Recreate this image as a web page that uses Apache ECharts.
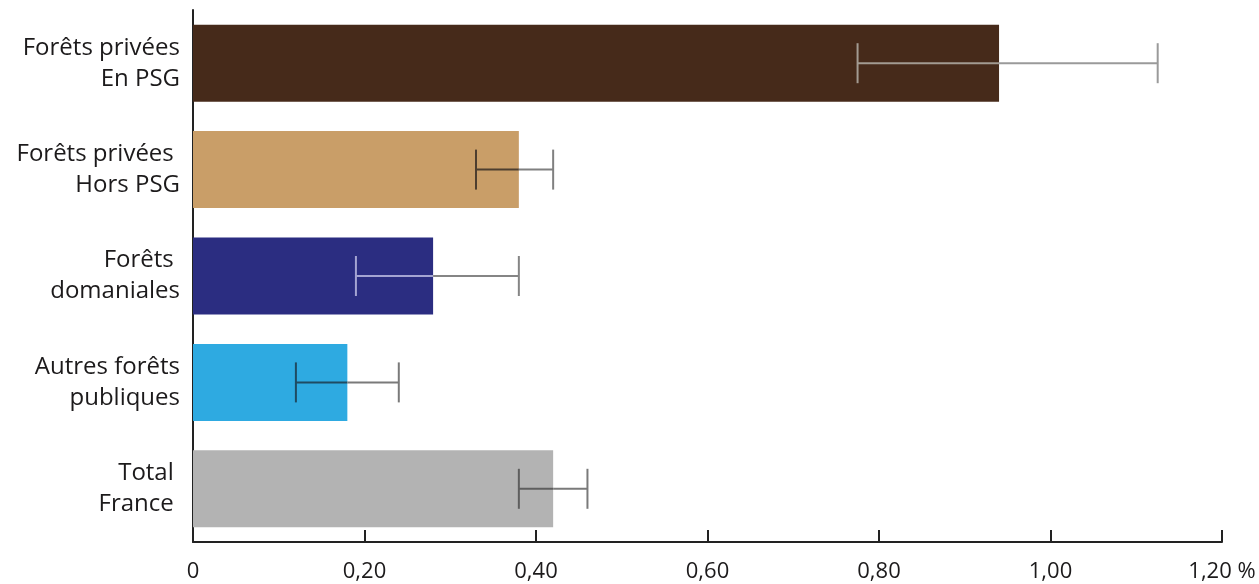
<!DOCTYPE html>
<html>
<head>
<meta charset="utf-8">
<script src="https://cdn.jsdelivr.net/npm/echarts@6/dist/echarts.min.js"></script>
<style>
  html, body { margin: 0; padding: 0; background: #ffffff; }
  #chart { width: 1259px; height: 584px; }
</style>
</head>
<body>
<div id="chart"></div>
<script>
// Forest categories (top to bottom)
const categories = [
  'Forêts privées\nEn PSG',
  'Forêts privées \nHors PSG',
  'Forêts \ndomaniales',
  'Autres forêts\npubliques',
  'Total \nFrance '
];
// Rate (%) per category
const values = [0.94, 0.38, 0.28, 0.18, 0.42];
// Confidence interval bounds (%)
const errLow = [0.775, 0.33, 0.19, 0.12, 0.38];
const errHigh = [1.125, 0.42, 0.38, 0.24, 0.46];
// X axis tick labels
const tickLabels = ['0', '0,20', '0,40', '0,60', '0,80', '1,00', '1,20 %'];

const barColors = ['#462a1a', '#c99e68', '#2b2d81', '#2eaae1', '#b3b3b3'];
// whisker colour where it crosses the bar, and where it sits on white
const innerWhisker = ['#a39b92', '#4d3e2f', '#a4a4d2', '#1f4b62', '#5e5e5e'];
const outerWhisker = ['#9a9a9a', '#808080', '#858585', '#7a7a7a', '#7a7a7a'];

const FONT = '"Open Sans", "DejaVu Sans", sans-serif';
const TEXT = '#1c1a1b';

const chart = echarts.init(document.getElementById('chart'), null, { renderer: 'canvas' });

chart.setOption({
  animation: false,
  backgroundColor: '#ffffff',
  grid: { left: 193, right: 37, top: 10, bottom: 42, containLabel: false },
  xAxis: {
    type: 'value',
    min: 0,
    max: 1.2,
    interval: 0.2,
    splitLine: { show: false },
    axisLine: { show: true, lineStyle: { color: '#222', width: 2 } },
    axisTick: { show: true, inside: true, length: 12, lineStyle: { color: '#222', width: 2 } },
    axisLabel: {
      margin: 19,
      fontFamily: FONT,
      fontSize: 22,
      color: TEXT,
      formatter: function (v) { return tickLabels[Math.round(v / 0.2)]; }
    }
  },
  yAxis: {
    type: 'category',
    inverse: true,
    data: categories,
    axisLine: { show: true, lineStyle: { color: '#222', width: 2 } },
    axisTick: { show: false },
    axisLabel: {
      margin: 13,
      fontFamily: FONT,
      fontSize: 24,
      lineHeight: 31,
      color: TEXT,
      align: 'right'
    }
  },
  series: [
    {
      type: 'bar',
      barWidth: 77,
      data: values.map(function (v, i) {
        return { value: v, itemStyle: { color: barColors[i] } };
      }),
      z: 2
    },
    {
      type: 'custom',
      z: 5,
      encode: { x: [1, 2, 3], y: 0 },
      data: categories.map(function (c, i) { return [i, errLow[i], errHigh[i], values[i]]; }),
      renderItem: function (params, api) {
        const i = params.dataIndex;
        const y = api.coord([0, i])[1];
        const xl = api.coord([api.value(1), i])[0];
        const xh = api.coord([api.value(2), i])[0];
        const xb = api.coord([api.value(3), i])[0];
        const half = 20;
        const lw = 2;
        const inC = innerWhisker[i];
        const outC = outerWhisker[i];
        const children = [];
        const split = Math.min(Math.max(xb, xl), xh);
        if (split > xl) {
          children.push({ type: 'line', shape: { x1: xl, y1: y, x2: split, y2: y },
            style: { stroke: inC, lineWidth: lw } });
        }
        if (xh > split) {
          children.push({ type: 'line', shape: { x1: split, y1: y, x2: xh, y2: y },
            style: { stroke: outC, lineWidth: lw } });
        }
        children.push({ type: 'line', shape: { x1: xl, y1: y - half, x2: xl, y2: y + half },
          style: { stroke: xl < xb ? inC : outC, lineWidth: lw } });
        children.push({ type: 'line', shape: { x1: xh, y1: y - half, x2: xh, y2: y + half },
          style: { stroke: xh < xb ? inC : outC, lineWidth: lw } });
        return { type: 'group', children: children };
      }
    }
  ]
});
</script>
</body>
</html>
